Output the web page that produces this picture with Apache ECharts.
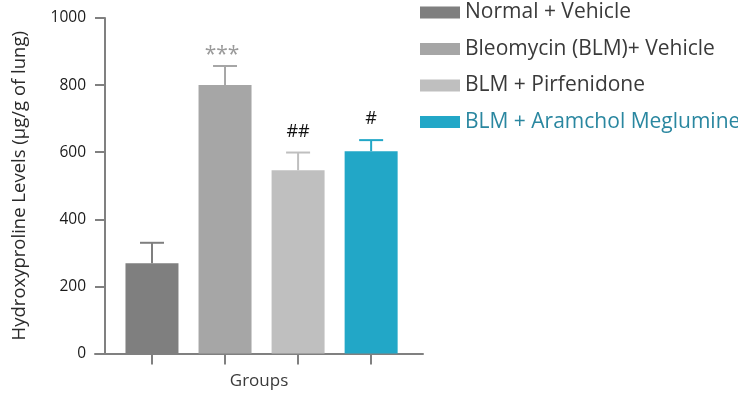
<!DOCTYPE html>
<html>
<head>
<meta charset="utf-8">
<script src="https://cdn.jsdelivr.net/npm/echarts@6/dist/echarts.min.js"></script>
<style>html,body{margin:0;padding:0;background:#fff}#c{width:738px;height:396px}</style>
</head>
<body>
<div id="c"></div>
<script>
const groups = ['Normal + Vehicle', 'Bleomycin (BLM)+ Vehicle', 'BLM + Pirfenidone', 'BLM + Aramchol Meglumine'];
const positions = [1, 2, 3, 4];
const means = [269, 800, 546, 603];
const upperErr = [330, 857, 599, 636];
const marks = ['', '***', '##', '#'];
const yTicks = [0, 200, 400, 600, 800, 1000];

const colors = ['#7f7f7f', '#a6a6a6', '#bfbfbf', '#22a7c7'];
const markColors = ['#111', '#9a9a9a', '#111', '#111'];
const FONT = 'Open Sans';

const chart = echarts.init(document.getElementById('c'));

const barSeries = groups.map((g, i) => ({
  name: g,
  type: 'bar',
  barWidth: 53,
  barGap: '-100%',
  itemStyle: { color: colors[i] },
  data: [[positions[i], means[i]]],
  z: 2
}));

const errData = positions.map((p, i) => [p, means[i], upperErr[i], i]);

option = {
  animation: false,
  textStyle: { fontFamily: FONT },
  grid: { left: 95, right: 315, top: 18, bottom: 42.5, outerBoundsMode: 'none', containLabel: false },
  legend: {
    orient: 'vertical',
    left: 415,
    top: -3,
    itemWidth: 40,
    itemHeight: 12,
    itemGap: 15.5,
    icon: 'rect',
    selectedMode: false,
    textStyle: { fontFamily: FONT, fontSize: 21, color: '#3a3a3a', lineHeight: 20 },
    data: groups.map((g, i) => i === 3 ? { name: g, textStyle: { color: '#2a87a0' } } : { name: g })
  },
  xAxis: {
    type: 'value',
    min: 0.22,
    max: 4.71,
    name: 'Groups',
    nameLocation: 'middle',
    nameGap: 19,
    nameTextStyle: { fontFamily: FONT, fontSize: 17, color: '#3a3a3a' },
    axisLine: { show: true, lineStyle: { color: '#808080', width: 2 } },
    axisTick: { show: true, customValues: positions, length: 11, lineStyle: { color: '#808080', width: 2 } },
    axisLabel: { show: false },
    splitLine: { show: false }
  },
  yAxis: {
    type: 'value',
    min: 0,
    max: 1000,
    interval: 200,
    offset: -10,
    name: 'Hydroxyproline Levels (µg/g of lung)',
    nameLocation: 'middle',
    nameGap: 76,
    nameTextStyle: { fontFamily: FONT, fontSize: 18.5, color: '#2a2a2a' },
    axisLine: { show: true, lineStyle: { color: '#808080', width: 2 } },
    axisTick: { show: true, length: 10, lineStyle: { color: '#808080', width: 2 } },
    axisLabel: { margin: 19, fontFamily: FONT, fontSize: 15.5, color: '#1a1a1a',
      formatter: v => String(v) },
    splitLine: { show: false }
  },
  series: barSeries.concat([{
    type: 'custom',
    name: 'err',
    z: 1,
    data: errData,
    encode: { x: 0, y: [1, 2] },
    renderItem: function (params, api) {
      const x = api.value(0);
      const idx = api.value(3);
      const lo = api.coord([x, api.value(1)]);
      const hi = api.coord([x, api.value(2)]);
      const c = colors[idx];
      const children = [
        { type: 'line', shape: { x1: lo[0], y1: lo[1], x2: hi[0], y2: hi[1] }, style: { stroke: c, lineWidth: 2 } },
        { type: 'line', shape: { x1: hi[0] - 12, y1: hi[1], x2: hi[0] + 12, y2: hi[1] }, style: { stroke: c, lineWidth: 2 } }
      ];
      const m = marks[idx];
      if (m) {
        const star = m.indexOf('*') >= 0;
        children.push({
          type: 'text',
          style: {
            text: m,
            x: hi[0] - (star ? 3 : 0),
            y: hi[1] - (star ? 0 : 12),
            align: 'center',
            verticalAlign: 'bottom',
            fontFamily: FONT,
            fontSize: star ? 21 : 18,
            fill: markColors[idx]
          }
        });
      }
      return { type: 'group', children: children };
    }
  }])
};
chart.setOption(option);
</script>
</body>
</html>
